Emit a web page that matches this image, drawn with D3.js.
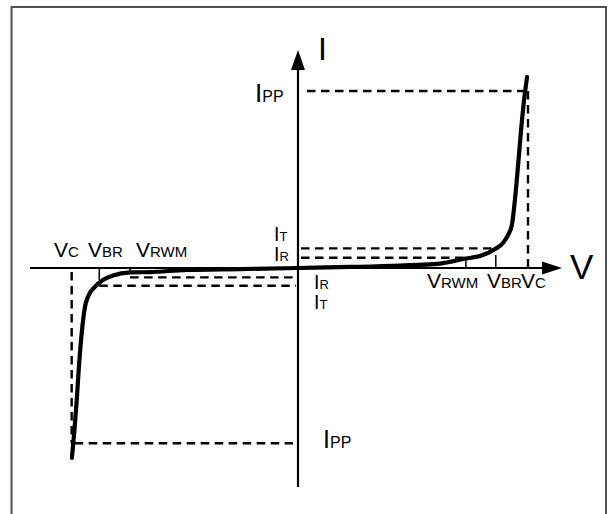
<!DOCTYPE html>
<html>
<head>
<meta charset="utf-8">
<script src="https://cdn.jsdelivr.net/npm/d3@7"></script>
<style>
  body { margin: 0; background: #fff; }
  svg { display: block; font-family: "Liberation Sans", Arial, sans-serif; }
</style>
</head>
<body>
<svg id="chart" width="611" height="514"></svg>
<script>
// TVS diode I-V characteristic, arbitrary units (V right / I up)
const curveV = [-9.83, -9.72, -9.62, -9.52, -9.39, -9.26, -9.13, -8.83, -8.48, -8.04, -7.30, -6.43, -4.83, -2.52, 0,
  2.26, 4.43, 6.17, 7.30, 7.91, 8.57, 8.91, 9.13, 9.30, 9.43, 9.57, 9.70, 9.83, 9.96];
const curveI = [-10.73, -9.15, -7.46, -5.48, -3.50, -2.18, -1.62, -1.06, -0.68, -0.42, -0.25, -0.23, -0.11, -0.06, 0,
  0.06, 0.14, 0.25, 0.54, 0.68, 1.07, 1.41, 1.86, 2.43, 3.84, 5.82, 7.80, 9.49, 10.79];

// voltage levels: VRWM, VBR, VC
const voltNames = [['V', 'RWM'], ['V', 'BR'], ['V', 'C']];
const voltRight = [7.30, 8.60, 10.0];
const voltLeft = [-7.30, -8.64, -9.84];

// current levels: IR, IT, IPP
const currNames = [['I', 'R'], ['I', 'T'], ['I', 'PP']];
const currUpper = [0.58, 1.11, 10.0];
const currLower = [-0.53, -1.0, -9.9];

const svg = d3.select('#chart');

const x = d3.scaleLinear().domain([-10, 10]).range([68, 528]);
const y = d3.scaleLinear().domain([-10, 10]).range([445, 91]);

const x0 = x(0);
const y0 = y(0);

// frame (bottom edge is cut off)
svg.append('path')
  .attr('d', 'M11.5,514 V7 H606 V514')
  .attr('fill', 'none')
  .attr('stroke', '#505050')
  .attr('stroke-width', 2);

const dash = '8.5,5.5';
const dashed = (x1, y1, x2, y2) => svg.append('line')
  .attr('x1', x1).attr('y1', y1).attr('x2', x2).attr('y2', y2)
  .attr('stroke', '#000')
  .attr('stroke-width', 2.4)
  .attr('stroke-dasharray', dash);

// right side guides
dashed(x0 + 9, y(currUpper[2]), x(voltRight[2]), y(currUpper[2]));
dashed(x(voltRight[2]), y(currUpper[2]), x(voltRight[2]), y0);
dashed(x0 + 3, y(currUpper[1]), x(voltRight[1]), y(currUpper[1]));
dashed(x0 + 3, y(currUpper[0]), x(voltRight[0]), y(currUpper[0]));

// left side guides
dashed(x(voltLeft[0]), y(currLower[0]), x0 - 2, y(currLower[0]));
dashed(x(voltLeft[1]), y(currLower[1]), x0 - 2, y(currLower[1]));
dashed(x(voltLeft[2]), y0 + 4, x(voltLeft[2]), y(currLower[2]));
dashed(x(voltLeft[2]) + 3, y(currLower[2]), x0 - 5, y(currLower[2]));

// small ticks at VRWM / VBR
const tick = (xv, len) => svg.append('line')
  .attr('x1', x(xv)).attr('x2', x(xv))
  .attr('y1', y0).attr('y2', y0 + len)
  .attr('stroke', '#000')
  .attr('stroke-width', 1.5);
tick(voltRight[0], -11);
tick(voltRight[1], -13);
tick(voltLeft[0], 6);
tick(voltLeft[1], 12);

// axes with arrows
svg.append('line')
  .attr('x1', 30).attr('x2', 545)
  .attr('y1', y0).attr('y2', y0)
  .attr('stroke', '#000').attr('stroke-width', 2.2);
svg.append('path')
  .attr('d', `M562,${y0} L542,${y0 - 6.5} L542,${y0 + 6.5} Z`)
  .attr('fill', '#000');

svg.append('line')
  .attr('x1', x0).attr('x2', x0)
  .attr('y1', 67).attr('y2', 487)
  .attr('stroke', '#000').attr('stroke-width', 2.2);
svg.append('path')
  .attr('d', `M${x0},50 L${x0 - 7},70 L${x0 + 7},70 Z`)
  .attr('fill', '#000');

// characteristic curve
const line = d3.line()
  .x((d, i) => x(curveV[i]))
  .y((d, i) => y(curveI[i]))
  .curve(d3.curveMonotoneX);

svg.append('path')
  .datum(curveV)
  .attr('d', line)
  .attr('fill', 'none')
  .attr('stroke', '#000')
  .attr('stroke-width', 4.2)
  .attr('stroke-linecap', 'round')
  .attr('stroke-linejoin', 'round');

// labels: big letter + small letter on same baseline
function label(px, py, parts, big, small) {
  const t = svg.append('text')
    .attr('x', px).attr('y', py)
    .attr('fill', '#000');
  t.append('tspan').attr('font-size', big).text(parts[0]);
  t.append('tspan').attr('font-size', small).text(parts[1]);
}

svg.append('text').attr('x', 318).attr('y', 60)
  .attr('font-size', 32).text('I');
svg.append('text').attr('x', 570).attr('y', 279)
  .attr('font-size', 35).text('V');

// IPP
label(255, 102, currNames[2], 26, 16);
label(323, 448, currNames[2], 25, 16);
// IT / IR above the axis, left of I axis
label(274, 240.5, currNames[1], 19.5, 13);
label(274, 260.5, currNames[0], 19.5, 13);
// IR / IT below the axis
label(314, 288.5, currNames[0], 19.5, 13);
label(314, 308.5, currNames[1], 19.5, 13);

// voltage labels left (VC, VBR, VRWM)
const leftX = [136, 88, 54];
voltNames.forEach((n, i) => label(leftX[i], 257, n, 21, 15));
// voltage labels right
const rightX = [427, 487, 521];
voltNames.forEach((n, i) => label(rightX[i], 288, n, 21, 15));
</script>
</body>
</html>
